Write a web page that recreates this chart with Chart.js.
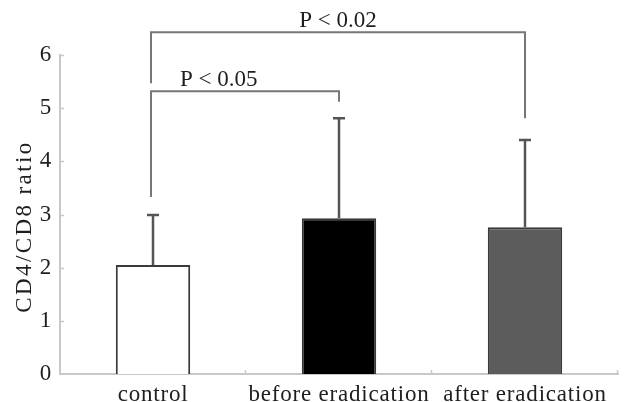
<!DOCTYPE html>
<html>
<head>
<meta charset="utf-8">
<script src="https://cdn.jsdelivr.net/npm/chart.js"></script>
<style>
  html, body { margin: 0; padding: 0; background: #fff; }
  #wrap { width: 631px; height: 402px; position: relative; }
</style>
</head>
<body>
<div id="wrap"><canvas id="chart"></canvas></div>
<script>
// values
const categories = ['control', 'before eradication', 'after eradication'];
const means = [2.05, 2.93, 2.76];
const errTops = [2.99, 4.81, 4.40];
const barFills = ['#ffffff', '#000000', '#5c5c5c'];
const yTitle = 'CD4/CD8 ratio';

// significance brackets
const bracketText = ['P < 0.05', 'P < 0.02'];
const bracketFrom = [0, 0];
const bracketTo = [1, 2];
const bracketLevel = [5.32, 6.43];
const bracketLeftEnd = [3.33, 5.47];
const bracketRightEnd = [5.12, 4.81];
const bracketTextPos = [0.36, 0.5];

const serif = '"Liberation Serif", "Times New Roman", serif';
const ink = '#1e1e1e';

const spacing = {
  id: 'spacing',
  beforeDraw(chart) { chart.ctx.letterSpacing = '0.8px'; }
};

const overlay = {
  id: 'overlay',
  afterDatasetsDraw(chart) {
    const { ctx, chartArea, scales: { x, y } } = chart;
    ctx.save();
    // small tick marks inside the axes
    ctx.strokeStyle = '#c8c8c8';
    ctx.lineWidth = 1.5;
    for (let v = 1; v <= 6; v++) {
      const py = Math.round(y.getPixelForValue(v)) + 0.5;
      ctx.beginPath();
      ctx.moveTo(x.left, py);
      ctx.lineTo(x.left + 4, py);
      ctx.stroke();
    }
    for (let i = 0; i < categories.length; i++) {
      const px = Math.round(x.getPixelForValue(i + 0.5)) - 0.5;
      ctx.beginPath();
      ctx.moveTo(px, y.bottom);
      ctx.lineTo(px, y.bottom - 4);
      ctx.stroke();
    }
    // error bars
    ctx.strokeStyle = '#555';
    ctx.lineWidth = 2.5;
    means.forEach((m, i) => {
      const px = x.getPixelForValue(i);
      const y0 = y.getPixelForValue(m);
      const y1 = y.getPixelForValue(errTops[i]);
      ctx.beginPath();
      ctx.moveTo(px, y0);
      ctx.lineTo(px, y1);
      ctx.moveTo(px - 6, y1);
      ctx.lineTo(px + 6, y1);
      ctx.stroke();
    });
    // brackets
    ctx.strokeStyle = '#777';
    ctx.lineWidth = 2;
    ctx.letterSpacing = '0px';
    ctx.font = '23px ' + serif;
    ctx.fillStyle = ink;
    ctx.textAlign = 'center';
    ctx.textBaseline = 'alphabetic';
    bracketText.forEach((t, i) => {
      const xa = x.getPixelForValue(bracketFrom[i]) - 2;
      const xb = x.getPixelForValue(bracketTo[i]);
      const yl = y.getPixelForValue(bracketLevel[i]);
      ctx.beginPath();
      ctx.moveTo(xa, y.getPixelForValue(bracketLeftEnd[i]));
      ctx.lineTo(xa, yl);
      ctx.lineTo(xb, yl);
      ctx.lineTo(xb, y.getPixelForValue(bracketRightEnd[i]));
      ctx.stroke();
      ctx.fillText(t, xa + (xb - xa) * bracketTextPos[i], yl - 5);
    });
    // y axis title
    ctx.letterSpacing = '2.4px';
    ctx.font = '23px ' + serif;
    ctx.translate(25, (chartArea.top + chartArea.bottom) / 2 + 12);
    ctx.rotate(-Math.PI / 2);
    ctx.textBaseline = 'middle';
    ctx.fillText(yTitle, 0, 0);
    ctx.restore();
  }
};

new Chart(document.getElementById('chart'), {
  type: 'bar',
  data: {
    labels: categories,
    datasets: [{
      data: means,
      backgroundColor: barFills,
      borderColor: '#3a3a3a',
      borderWidth: 2,
      barPercentage: 0.4,
      categoryPercentage: 1
    }]
  },
  options: {
    responsive: true,
    maintainAspectRatio: false,
    animation: false,
    layout: { padding: { top: 55, right: 13, left: 0, bottom: 0 } },
    plugins: { legend: { display: false }, tooltip: { enabled: false } },
    scales: {
      x: {
        grid: { display: false },
        border: { color: '#c8c8c8', width: 2 },
        ticks: { font: { family: serif, size: 23 }, color: ink, padding: -1, maxRotation: 0 },
        afterFit(s) { s.height = 28; }
      },
      y: {
        min: 0,
        max: 6,
        grid: { display: false, drawTicks: false },
        border: { color: '#c8c8c8', width: 2 },
        ticks: { stepSize: 1, font: { family: serif, size: 23 }, color: ink, padding: 8 },
        afterFit(s) { s.width = 60; }
      }
    }
  },
  plugins: [spacing, overlay]
});
</script>
</body>
</html>
